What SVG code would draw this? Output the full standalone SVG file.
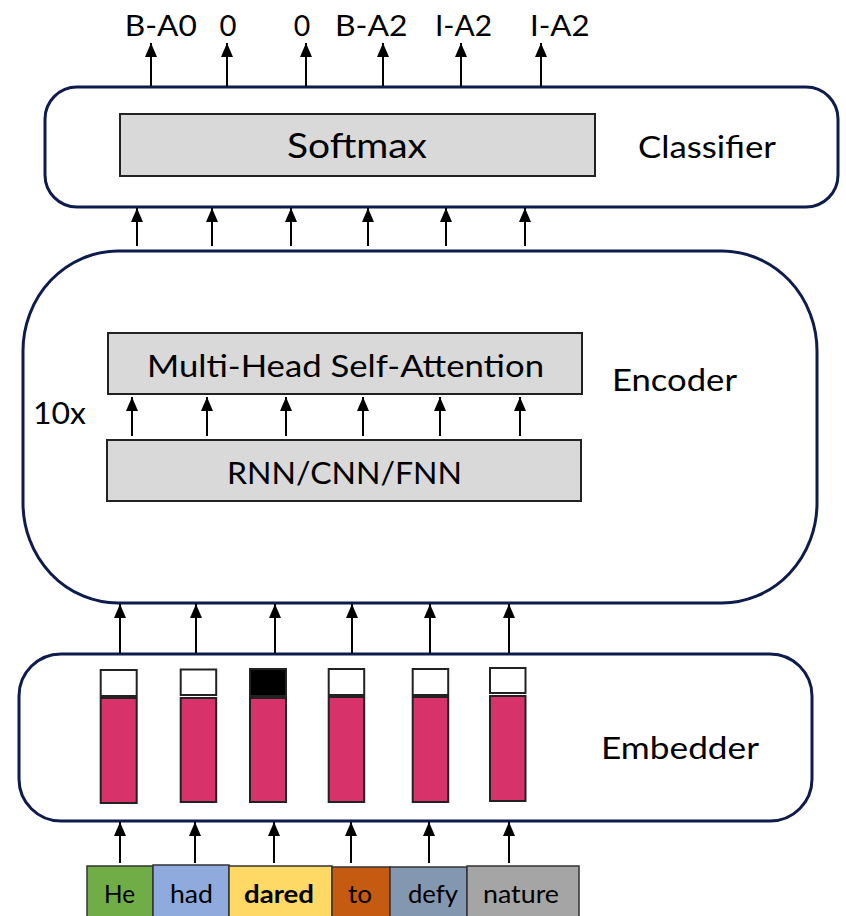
<svg xmlns="http://www.w3.org/2000/svg" width="846" height="916" viewBox="0 0 846 916">
<style>
  .t { font-family: Lato, "Open Sans", "Liberation Sans", sans-serif; fill: #000; }
  .module { fill: #fff; stroke: #0E1B4D; stroke-width: 3; }
  .layer { fill: #D9D9D9; stroke: #222; stroke-width: 2; }
  .arrow { stroke: #000; stroke-width: 2; fill: none; marker-end: url(#ah); }
  .cell { fill: #fff; stroke: #222; stroke-width: 2; }
  .vec { fill: #D7336A; stroke: #222; stroke-width: 2; }
  .word { stroke: #333; stroke-width: 1.5; }
</style>
<defs>
  <marker id="ah" markerUnits="userSpaceOnUse" markerWidth="14" markerHeight="12" refX="14" refY="6" orient="auto" viewBox="0 0 14 12">
    <path d="M0,0 L14,6 L0,12 z" fill="#000"/>
  </marker>
</defs>
<rect width="846" height="916" fill="#fff"/>

<!-- top labels -->
<g id="labels">
  <text class="t" x="124.8" y="36" font-size="28.5" textLength="72" lengthAdjust="spacingAndGlyphs">B-A0</text>
  <text class="t" x="219.6" y="36" font-size="28.5" textLength="17" lengthAdjust="spacingAndGlyphs">0</text>
  <text class="t" x="293.8" y="36" font-size="28.5" textLength="16.5" lengthAdjust="spacingAndGlyphs">0</text>
  <text class="t" x="335" y="36" font-size="28.5" textLength="72.5" lengthAdjust="spacingAndGlyphs">B-A2</text>
  <text class="t" x="435" y="36" font-size="28.5" textLength="57" lengthAdjust="spacingAndGlyphs">I-A2</text>
  <text class="t" x="530" y="36" font-size="28.5" textLength="59.5" lengthAdjust="spacingAndGlyphs">I-A2</text>
</g>

<!-- Classifier -->
<g id="classifier">
  <rect class="module" x="45" y="87" width="793" height="120" rx="32" ry="32"/>
  <rect class="layer" x="120" y="114" width="475" height="62"/>
  <text class="t" x="287" y="158" font-size="35" textLength="140" lengthAdjust="spacingAndGlyphs">Softmax</text>
  <text class="t" x="638" y="158" font-size="31.5" textLength="138" lengthAdjust="spacingAndGlyphs">Classifier</text>
</g>

<!-- Encoder -->
<g id="encoder">
  <rect class="module" x="23" y="251" width="794" height="352" rx="95" ry="100"/>
  <g id="mhsa">
    <rect class="layer" x="108" y="333" width="474" height="61"/>
    <text class="t" x="147" y="377" font-size="30" textLength="397" lengthAdjust="spacingAndGlyphs">Multi-Head Self-Attention</text>
  </g>
  <g id="rnn">
    <rect class="layer" x="107" y="440" width="474" height="61"/>
    <text class="t" x="227" y="484" font-size="30" textLength="235" lengthAdjust="spacingAndGlyphs">RNN/CNN/FNN</text>
  </g>
  <text class="t" x="33" y="424" font-size="30" textLength="53" lengthAdjust="spacingAndGlyphs">10x</text>
  <text class="t" x="612" y="391" font-size="30" textLength="125" lengthAdjust="spacingAndGlyphs">Encoder</text>
</g>

<!-- Embedder -->
<g id="embedder">
  <rect class="module" x="19" y="654" width="793" height="167" rx="42" ry="42"/>
  <g id="emb-he"><rect class="cell" x="100.7" y="670" width="36" height="26"/><rect class="vec" x="100.7" y="698" width="36" height="105"/></g>
  <g id="emb-had"><rect class="cell" x="180.7" y="669.5" width="35.5" height="25.5"/><rect class="vec" x="180.7" y="698" width="35.5" height="104"/></g>
  <g id="emb-dared"><rect x="250" y="669" width="36" height="27" fill="#000" stroke="#222" stroke-width="2"/><rect class="vec" x="250" y="698" width="36" height="104"/></g>
  <g id="emb-to"><rect class="cell" x="328.7" y="669" width="35.5" height="26"/><rect class="vec" x="328.7" y="697" width="35.5" height="105"/></g>
  <g id="emb-defy"><rect class="cell" x="412.7" y="669" width="35.5" height="26"/><rect class="vec" x="412.7" y="697" width="35.5" height="105"/></g>
  <g id="emb-nature"><rect class="cell" x="490" y="668" width="35.5" height="25"/><rect class="vec" x="490" y="696" width="35.5" height="105"/></g>
  <text class="t" x="601" y="759" font-size="30" textLength="158" lengthAdjust="spacingAndGlyphs">Embedder</text>
</g>

<!-- words -->
<g id="words">
  <g id="w-he"><rect class="word" x="87" y="866" width="66" height="60" fill="#70AD47"/>
    <text class="t" x="104" y="903" font-size="25.5" textLength="31" lengthAdjust="spacingAndGlyphs">He</text></g>
  <g id="w-had"><rect class="word" x="153" y="865" width="76" height="60" fill="#8FAADC"/>
    <text class="t" x="170" y="903" font-size="25.5" textLength="43" lengthAdjust="spacingAndGlyphs">had</text></g>
  <g id="w-dared"><rect class="word" x="229" y="866" width="103" height="60" fill="#FFD966"/>
    <text class="t" x="244" y="903" font-size="25.5" font-weight="bold" textLength="70" lengthAdjust="spacingAndGlyphs">dared</text></g>
  <g id="w-to"><rect class="word" x="332" y="867" width="58" height="60" fill="#C55A11"/>
    <text class="t" x="348" y="903" font-size="25.5" textLength="24" lengthAdjust="spacingAndGlyphs">to</text></g>
  <g id="w-defy"><rect class="word" x="390" y="867" width="77" height="60" fill="#8497B0"/>
    <text class="t" x="408" y="903" font-size="25.5" textLength="50" lengthAdjust="spacingAndGlyphs">defy</text></g>
  <g id="w-nature"><rect class="word" x="467" y="866" width="112" height="60" fill="#A5A5A5"/>
    <text class="t" x="483" y="903" font-size="25.5" textLength="76" lengthAdjust="spacingAndGlyphs">nature</text></g>
</g>

<!-- connectors -->
<g id="connectors">
  <line class="arrow" x1="151" y1="86" x2="151" y2="43"/>
  <line class="arrow" x1="227" y1="86" x2="227" y2="43"/>
  <line class="arrow" x1="306" y1="86" x2="306" y2="43"/>
  <line class="arrow" x1="383" y1="86" x2="383" y2="43"/>
  <line class="arrow" x1="461" y1="86" x2="461" y2="43"/>
  <line class="arrow" x1="541" y1="86" x2="541" y2="43"/>

  <line class="arrow" x1="137" y1="246" x2="137" y2="208"/>
  <line class="arrow" x1="212" y1="246" x2="212" y2="208"/>
  <line class="arrow" x1="291" y1="246" x2="291" y2="208"/>
  <line class="arrow" x1="368" y1="246" x2="368" y2="208"/>
  <line class="arrow" x1="446" y1="246" x2="446" y2="208"/>
  <line class="arrow" x1="525" y1="246" x2="525" y2="208"/>

  <line class="arrow" x1="132" y1="436" x2="132" y2="397"/>
  <line class="arrow" x1="207" y1="436" x2="207" y2="397"/>
  <line class="arrow" x1="286" y1="436" x2="286" y2="397"/>
  <line class="arrow" x1="363" y1="436" x2="363" y2="397"/>
  <line class="arrow" x1="440" y1="436" x2="440" y2="397"/>
  <line class="arrow" x1="520" y1="436" x2="520" y2="397"/>

  <line class="arrow" x1="120" y1="653" x2="120" y2="604"/>
  <line class="arrow" x1="196" y1="653" x2="196" y2="604"/>
  <line class="arrow" x1="275" y1="653" x2="275" y2="604"/>
  <line class="arrow" x1="352" y1="653" x2="352" y2="604"/>
  <line class="arrow" x1="430" y1="653" x2="430" y2="604"/>
  <line class="arrow" x1="509" y1="653" x2="509" y2="604"/>

  <line class="arrow" x1="120" y1="863" x2="120" y2="822"/>
  <line class="arrow" x1="195" y1="863" x2="195" y2="822"/>
  <line class="arrow" x1="274" y1="863" x2="274" y2="822"/>
  <line class="arrow" x1="351" y1="863" x2="351" y2="822"/>
  <line class="arrow" x1="429" y1="863" x2="429" y2="822"/>
  <line class="arrow" x1="509" y1="863" x2="509" y2="822"/>
</g>
</svg>
